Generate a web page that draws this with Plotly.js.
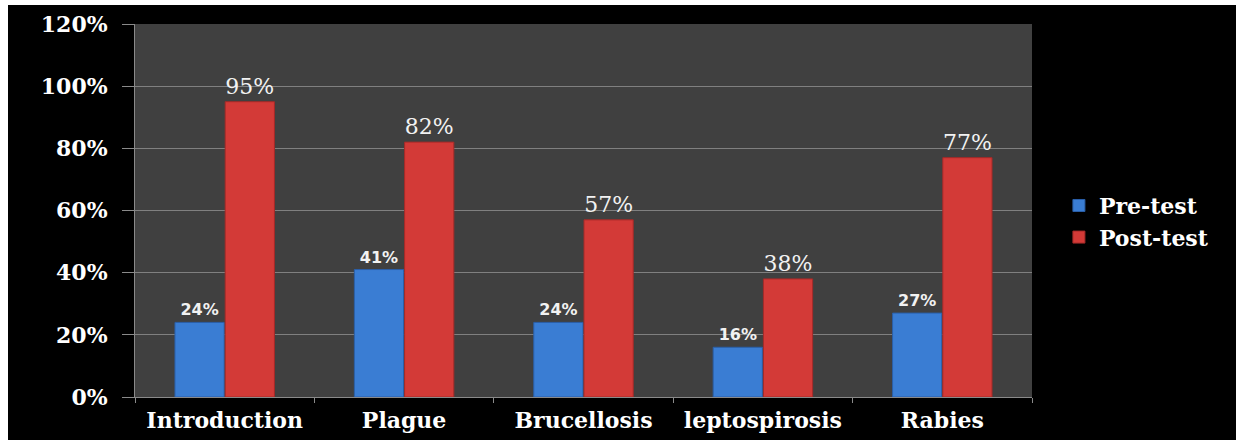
<!DOCTYPE html>
<html>
<head>
<meta charset="utf-8">
<script src="https://cdn.plot.ly/plotly-3.0.1.min.js"></script>
<style>
html,body{margin:0;padding:0;background:#ffffff;width:1236px;height:440px;overflow:hidden;}
#chart{position:absolute;left:8px;top:5px;width:1228px;height:435px;}
</style>
</head>
<body>
<div id="chart"></div>
<script>
const categories = ["Introduction", "Plague", "Brucellosis", "leptospirosis", "Rabies"];
const preTest = [24, 41, 24, 16, 27];
const postTest = [95, 82, 57, 38, 77];
const yTickValues = [0, 20, 40, 60, 80, 100, 120];
const yTickLabels = ["0%", "20%", "40%", "60%", "80%", "100%", "120%"];

const serif = "DejaVu Serif, Liberation Serif, serif";

const traces = [
  {
    type: "bar",
    name: "Pre-test",
    x: categories,
    y: preTest,
    marker: {color: "#3a7dd3", line: {color: "#2a5fa8", width: 1}},
    text: preTest.map(v => v + "%"),
    textposition: "outside",
    cliponaxis: false,
    textfont: {family: "DejaVu Sans, sans-serif", size: 16, color: "#f2f2f2", weight: "bold"}
  },
  {
    type: "bar",
    name: "Post-test",
    x: categories,
    y: postTest,
    marker: {color: "#d33a37", line: {color: "#a52a28", width: 1}},
    text: postTest.map(v => v + "%"),
    textposition: "outside",
    cliponaxis: false,
    textfont: {family: serif, size: 22, color: "#f2f2f2"}
  }
];

const layout = {
  width: 1228,
  height: 435,
  paper_bgcolor: "#000000",
  plot_bgcolor: "#404040",
  margin: {l: 127, r: 204, t: 19, b: 43},
  barmode: "group",
  bargap: 0.44,
  bargroupgap: 0.02,
  showlegend: true,
  legend: {
    x: 1.03, xanchor: "left",
    y: 0.47, yanchor: "middle",
    font: {family: serif, size: 22, color: "#ffffff", weight: "bold"},
    bgcolor: "rgba(0,0,0,0)",
    itemwidth: 30,
    tracegroupgap: 2
  },
  xaxis: {
    type: "category",
    showgrid: false,
    showline: true,
    linecolor: "#8a8a8a",
    linewidth: 1,
    ticks: "outside",
    tickson: "boundaries",
    ticklen: 5,
    tickcolor: "#8a8a8a",
    tickfont: {family: serif, size: 22, color: "#ffffff", weight: "bold"},
    ticklabelstandoff: 4,
    fixedrange: true
  },
  yaxis: {
    range: [0, 120],
    tickvals: yTickValues,
    ticktext: yTickLabels,
    showgrid: true,
    gridcolor: "#808080",
    gridwidth: 1,
    zeroline: false,
    showline: true,
    linecolor: "#8a8a8a",
    linewidth: 1,
    ticks: "outside",
    ticklen: 12,
    tickcolor: "#8a8a8a",
    ticklabelstandoff: 10,
    tickfont: {family: serif, size: 22, color: "#ffffff", weight: "bold"},
    fixedrange: true
  }
};

Plotly.newPlot("chart", traces, layout, {displayModeBar: false, staticPlot: true});
</script>
</body>
</html>
